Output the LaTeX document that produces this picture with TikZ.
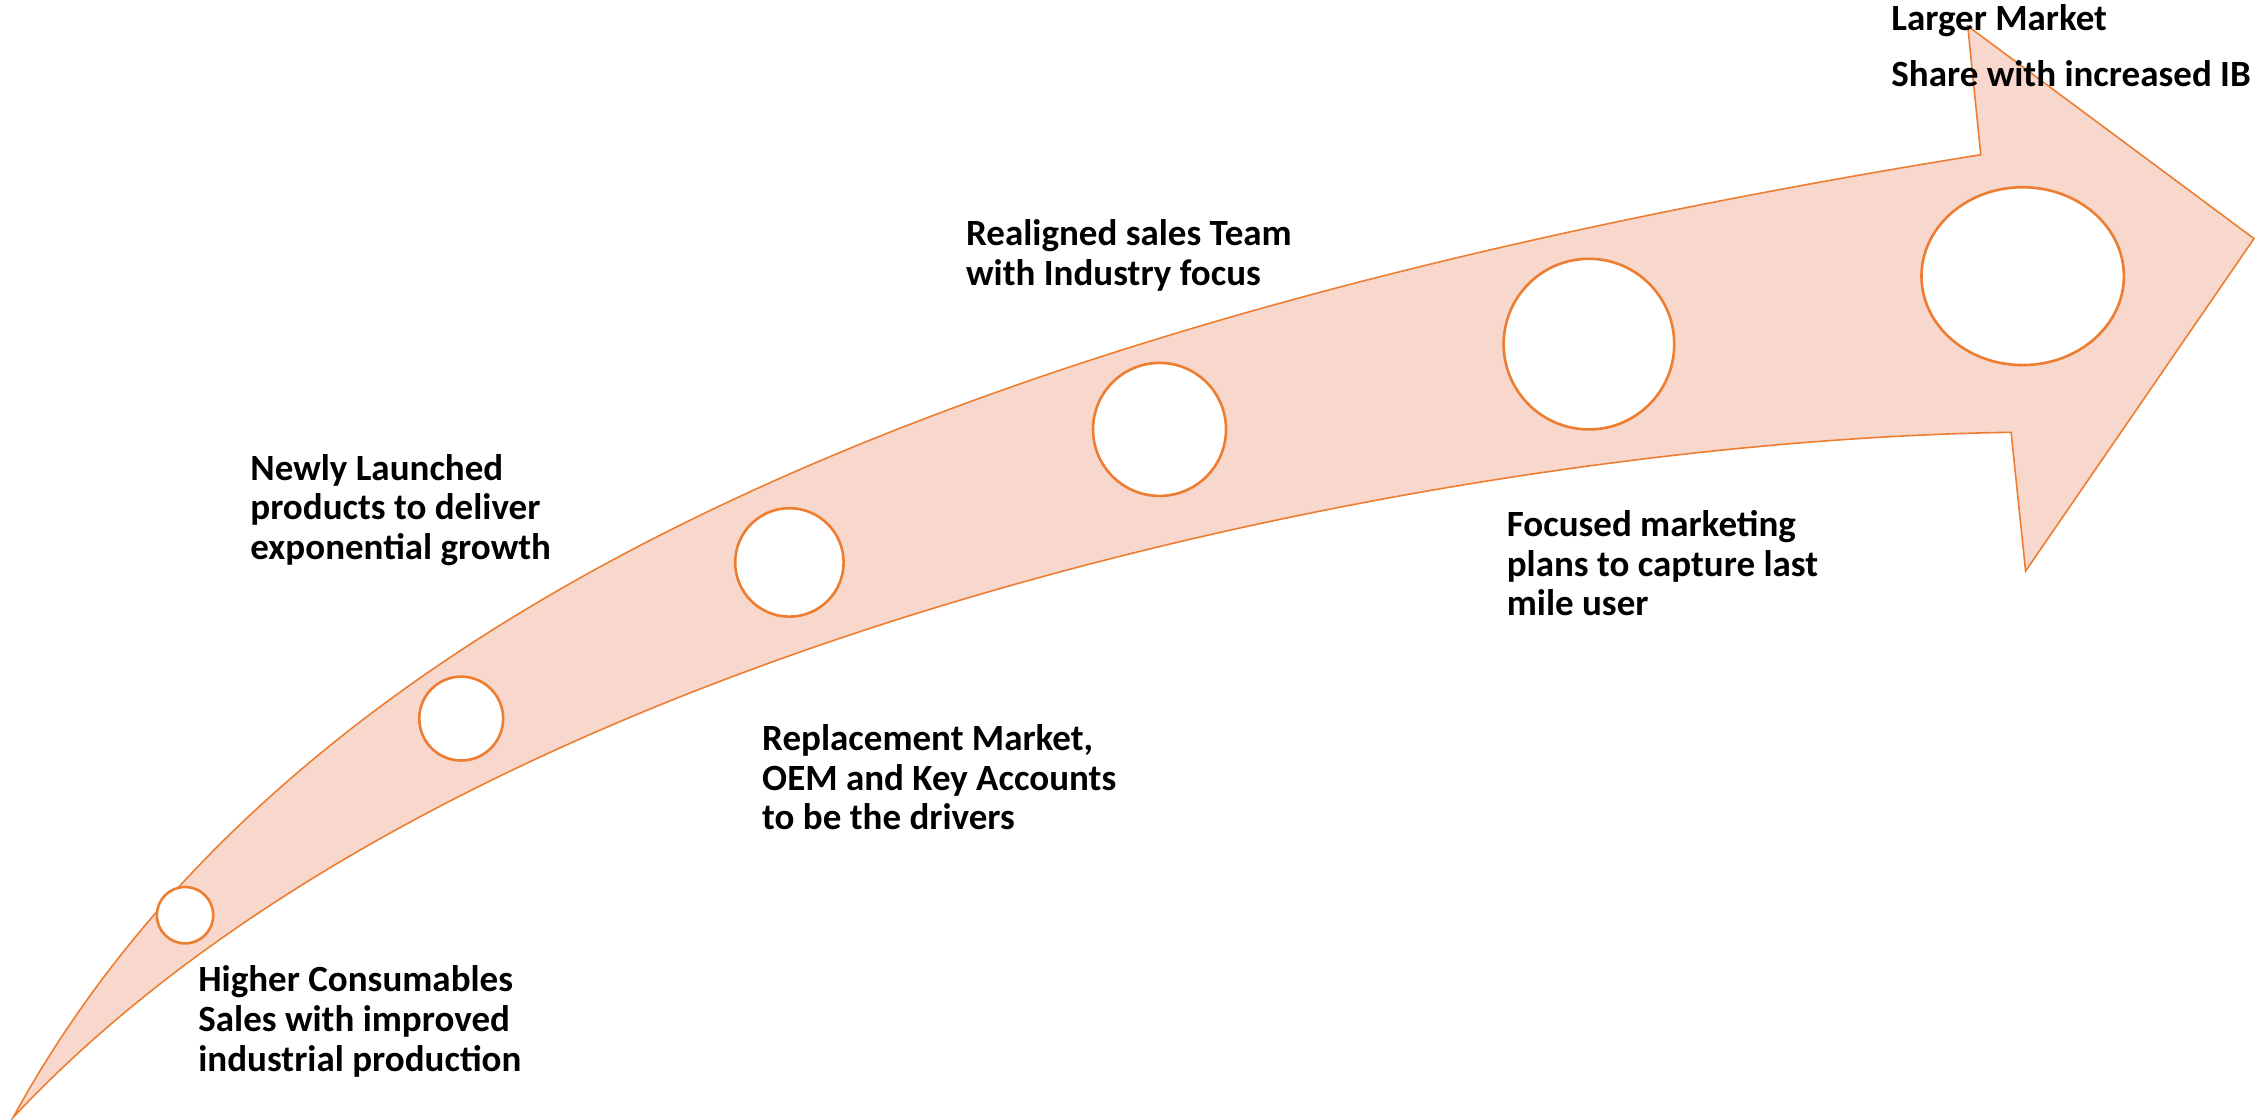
\documentclass[tikz,border=0pt]{standalone}
\usepackage{fontspec}
\setmainfont{Carlito}
\usetikzlibrary{shapes.geometric}

\definecolor{arrowline}{RGB}{237,125,49}
\definecolor{arrowfill}{RGB}{248,215,204}

\tikzset{
  stage/.style={circle,draw=arrowline,fill=white,line width=1.8pt,inner sep=0pt},
  lbl/.style={anchor=base west,inner sep=0pt,font=\fontsize{25.6}{27.5}\selectfont\bfseries},
}

\begin{document}
\begin{tikzpicture}[x=1pt,y=-1pt]
\useasboundingbox (0,0) rectangle (1568,774);
% the curved arrow
\draw[draw=arrowline,fill=arrowfill,line width=1.1pt,line join=miter]
  (9,773) .. controls (210,405) and (700,215) .. (1370,107)
  -- (1361,18) -- (1559,165) -- (1401,395) -- (1391,299)
  .. controls (1000,305) and (320,440) .. (9,773) -- cycle;
% stages
\node[stage,minimum size=39pt] (c1) at (128,633) {};
\node[stage,minimum size=58pt] (c2) at (319,497) {};
\node[stage,minimum size=75pt] (c3) at (546,389) {};
\node[stage,minimum size=92pt] (c4) at (802,297) {};
\node[stage,minimum size=118pt] (c5) at (1099,238) {};
\node[stage,ellipse,minimum width=140pt,minimum height=123pt] (c6) at (1399,191) {};
% labels
\node[lbl] (t1) at (137,686) {\begin{tabular}[t]{@{}l@{}}Higher Consumables\\Sales with improved\\industrial production\end{tabular}};
\node[lbl] (t2) at (173,332) {\begin{tabular}[t]{@{}l@{}}Newly Launched\\products to deliver\\exponential growth\end{tabular}};
\node[lbl] (t3) at (527,519) {\begin{tabular}[t]{@{}l@{}}Replacement Market,\\OEM and Key Accounts\\to be the drivers\end{tabular}};
\node[lbl] (t4) at (668,170) {\begin{tabular}[t]{@{}l@{}}Realigned sales Team\\with Industry focus\end{tabular}};
\node[lbl] (t5) at (1042,371) {\begin{tabular}[t]{@{}l@{}}Focused marketing\\plans to capture last\\mile user\end{tabular}};
\node[lbl,font=\fontsize{25.6}{39}\selectfont\bfseries] (t6) at (1308,21) {\begin{tabular}[t]{@{}l@{}}Larger Market\\Share with increased IB\end{tabular}};
\end{tikzpicture}
\end{document}
